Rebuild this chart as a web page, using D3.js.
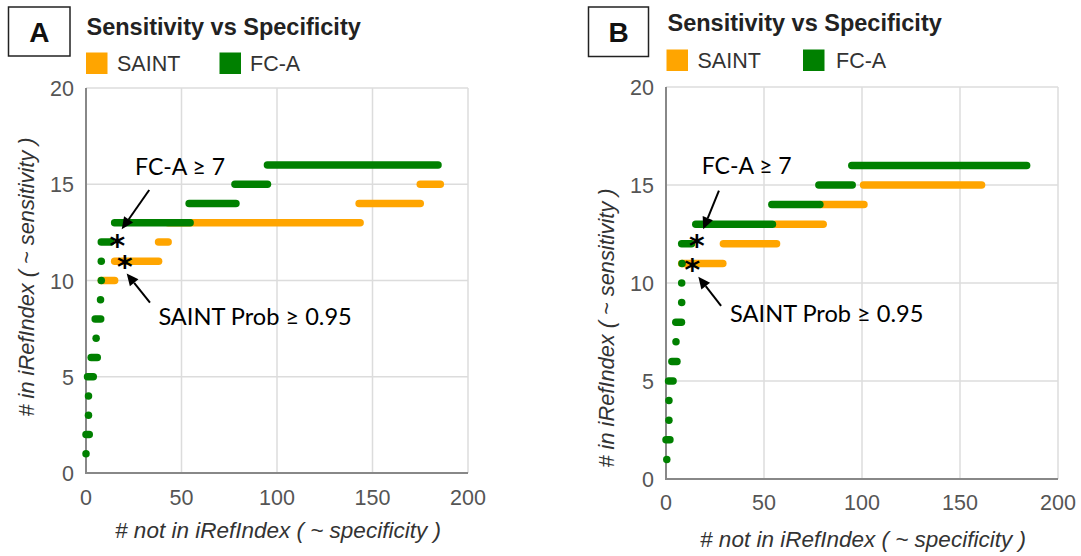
<!DOCTYPE html>
<html>
<head>
<meta charset="utf-8">
<script src="https://cdn.jsdelivr.net/npm/d3@7"></script>
<style>
  html, body { margin: 0; padding: 0; background: #fff; }
  svg { display: block; }
</style>
</head>
<body>
<svg id="chart" width="1081" height="556"></svg>
<script>
// ---- data ----
const xTicks = [0, 50, 100, 150, 200];
const yTicks = [0, 5, 10, 15, 20];
const seriesNames = ["SAINT", "FC-A"];
const chartTitle = "Sensitivity vs Specificity";
const xTitle = "# not in iRefIndex ( ~ specificity )";
const yTitle = "# in iRefIndex ( ~ sensitivity )";

// each row: [sensitivity (y), specificity start (x0), specificity end (x1)]
const saintA = [[10, 8, 15], [11, 15, 38], [12, 38, 43], [13, 43, 143.5], [14, 143, 175], [15, 175, 185.5]];
const fcaA = [[1, 0, 0], [2, 0, 1.7], [3, 1.3, 1.3], [4, 1.3, 1.3], [5, 0.8, 3.8], [6, 2.7, 5.9], [7, 5.3, 5.3],
              [8, 4.8, 7.7], [9, 7.6, 7.6], [10, 8, 8], [11, 8, 8], [12, 8, 13], [13, 15, 54.5],
              [14, 54, 78.5], [15, 78, 95], [16, 95, 184.3]];
const saintB = [[11, 8, 29], [12, 29.3, 56.4], [13, 56, 80.2], [14, 79, 101], [15, 100.8, 161]];
const fcaB = [[1, 0.4, 0.4], [2, 0, 2], [3, 1.5, 1.5], [4, 1.5, 1.5], [5, 1.3, 3.6], [6, 3, 5.6], [7, 5.1, 5.1],
              [8, 5, 7.9], [9, 8, 8], [10, 8, 8], [11, 8.2, 8.2], [12, 8, 13], [13, 15.2, 54.3],
              [14, 54, 78.5], [15, 78, 95], [16, 94.8, 184]];

// annotation labels
const annotLabels = ["FC-A \u2265 7", "SAINT Prob \u2265 0.95"];

// ---- layout ----
const colors = { saint: "#FFA500", fca: "#008000" };
const panels = [
  { letter: "A", saint: saintA, fca: fcaA,
    plot: { left: 86, right: 468, top: 88, bottom: 473 },
    box: { x: 8.5, y: 7, w: 61.5, h: 49 },
    titleX: 86.5, titleY: 35,
    legendY: 52.5, legend: [{ sx: 86, tx: 117 }, { sx: 219.5, tx: 250 }],
    xTickY: 505, xTitleY: 538, yTitleX: 34, yTitleCY: 277, yTickRight: 74,
    ann: { t1: [25.7, 15.48], a1: [[33.1, 14.7], [18.7, 12.66]], s1: [16.4, 11.96],
           s2: [20.4, 10.9], a2: [[33.5, 8.85], [21.3, 10.37]], t2: [37.9, 7.69] } },
  { letter: "B", saint: saintB, fca: fcaB,
    plot: { left: 666, right: 1058, top: 87, bottom: 479 },
    box: { x: 588.5, y: 7, w: 60, h: 49.5 },
    titleX: 667.5, titleY: 30.5,
    legendY: 49.5, legend: [{ sx: 666.5, tx: 697.5 }, { sx: 803, tx: 836 }],
    xTickY: 510, xTitleY: 547, yTitleX: 614, yTitleCY: 328, yTickRight: 654,
    ann: { t1: [18.2, 15.55], a1: [[27.0, 14.71], [19.0, 12.74]], s1: [15.7, 12.06],
           s2: [13.4, 10.83], a2: [[28.1, 8.83], [16.5, 10.32]], t2: [32.7, 8.03] } }
];

const svg = d3.select("#chart");
const sansFont = "'Liberation Sans', Arial, sans-serif";
const annFont = "Lato, 'Open Sans', sans-serif";

panels.forEach(p => {
  const g = svg.append("g");
  const x = d3.scaleLinear().domain([0, 200]).range([p.plot.left, p.plot.right]);
  const y = d3.scaleLinear().domain([0, 20]).range([p.plot.bottom, p.plot.top]);

  // panel letter box
  g.append("rect").attr("x", p.box.x).attr("y", p.box.y).attr("width", p.box.w).attr("height", p.box.h)
    .attr("fill", "#fff").attr("stroke", "#222").attr("stroke-width", 1.5);
  g.append("text").attr("x", p.box.x + p.box.w / 2).attr("y", p.box.y + p.box.h / 2 + 10)
    .attr("text-anchor", "middle").attr("font-family", sansFont).attr("font-weight", "bold")
    .attr("font-size", 28).attr("fill", "#111").text(p.letter);

  // title
  g.append("text").attr("x", p.titleX).attr("y", p.titleY).attr("font-family", sansFont)
    .attr("font-weight", "bold").attr("font-size", 23.5).attr("fill", "#222").text(chartTitle);

  // legend
  [colors.saint, colors.fca].forEach((c, i) => {
    const L = p.legend[i];
    g.append("rect").attr("x", L.sx).attr("y", p.legendY).attr("width", 21.5).attr("height", 21.5).attr("fill", c);
    g.append("text").attr("x", L.tx).attr("y", p.legendY + 18.5).attr("font-family", sansFont)
      .attr("font-size", 21.5).attr("fill", "#333").text(seriesNames[i]);
  });

  // gridlines
  g.append("g").selectAll("line").data(xTicks.slice(1)).join("line")
    .attr("x1", d => x(d)).attr("x2", d => x(d)).attr("y1", y(20)).attr("y2", y(0))
    .attr("stroke", "#dcdcdc").attr("stroke-width", 1.5);
  g.append("g").selectAll("line").data(yTicks.slice(1)).join("line")
    .attr("x1", x(0)).attr("x2", x(200)).attr("y1", d => y(d)).attr("y2", d => y(d))
    .attr("stroke", "#dcdcdc").attr("stroke-width", 1.5);

  // axes lines
  g.append("line").attr("x1", x(0)).attr("x2", x(0)).attr("y1", y(20)).attr("y2", y(0) + 1)
    .attr("stroke", "#888").attr("stroke-width", 2);
  g.append("line").attr("x1", x(0) - 1).attr("x2", x(200)).attr("y1", y(0)).attr("y2", y(0))
    .attr("stroke", "#888").attr("stroke-width", 2);

  // tick labels
  g.append("g").selectAll("text").data(xTicks).join("text")
    .attr("x", d => x(d)).attr("y", p.xTickY).attr("text-anchor", "middle")
    .attr("font-family", sansFont).attr("font-size", 21.5).attr("fill", "#555").text(d => d);
  g.append("g").selectAll("text").data(yTicks).join("text")
    .attr("x", p.yTickRight).attr("y", d => y(d)).attr("dy", "0.38em").attr("text-anchor", "end")
    .attr("font-family", sansFont).attr("font-size", 21.5).attr("fill", "#555").text(d => d);

  // axis titles
  g.append("text").attr("x", (x(0) + x(200)) / 2 + 1).attr("y", p.xTitleY).attr("text-anchor", "middle")
    .attr("font-family", sansFont).attr("font-style", "italic").attr("font-size", 22.5)
    .attr("fill", "#333").text(xTitle);
  g.append("text").attr("transform", `translate(${p.yTitleX},${p.yTitleCY}) rotate(-90)`)
    .attr("text-anchor", "middle").attr("font-family", sansFont).attr("font-style", "italic")
    .attr("font-size", 21.8).attr("fill", "#333").text(yTitle);

  // series (orange first, green on top)
  const drawSeries = (data, color) => {
    g.append("g").selectAll("path").data(data).join("path")
      .attr("d", d => `M${x(d[1])},${y(d[0])}L${x(d[2])},${y(d[0])}`)
      .attr("stroke", color).attr("stroke-width", 7.5).attr("stroke-linecap", "round").attr("fill", "none");
  };
  drawSeries(p.saint, colors.saint);
  drawSeries(p.fca, colors.fca);

  // annotations
  const A = p.ann;
  const arrow = (seg) => {
    const [x1, y1] = [x(seg[0][0]), y(seg[0][1])];
    const [x2, y2] = [x(seg[1][0]), y(seg[1][1])];
    const ang = Math.atan2(y2 - y1, x2 - x1);
    const hl = 12, hw = 5.5;
    const bx = x2 - hl * Math.cos(ang), by = y2 - hl * Math.sin(ang);
    g.append("line").attr("x1", x1).attr("y1", y1).attr("x2", bx).attr("y2", by)
      .attr("stroke", "#000").attr("stroke-width", 2);
    const pts = [[x2, y2], [bx + hw * Math.sin(ang), by - hw * Math.cos(ang)], [bx - hw * Math.sin(ang), by + hw * Math.cos(ang)]];
    g.append("polygon").attr("points", pts.map(q => q.join(",")).join(" ")).attr("fill", "#000");
  };
  arrow(A.a1);
  arrow(A.a2);
  g.append("text").attr("x", x(A.t1[0])).attr("y", y(A.t1[1])).attr("font-family", annFont)
    .attr("font-size", 23).attr("fill", "#000").text(annotLabels[0]);
  g.append("text").attr("x", x(A.t2[0])).attr("y", y(A.t2[1])).attr("font-family", annFont)
    .attr("font-size", 23.6).attr("fill", "#000").text(annotLabels[1]);
  // both asterisk markers as one text element
  const star = g.append("text").attr("text-anchor", "middle")
    .attr("font-family", "'DejaVu Sans', sans-serif").attr("font-weight", "bold")
    .attr("font-size", 30).attr("fill", "#000");
  [A.s1, A.s2].forEach(s => {
    star.append("tspan").attr("x", x(s[0])).attr("y", y(s[1]) + 13.5).text("*");
  });
});
</script>
</body>
</html>
